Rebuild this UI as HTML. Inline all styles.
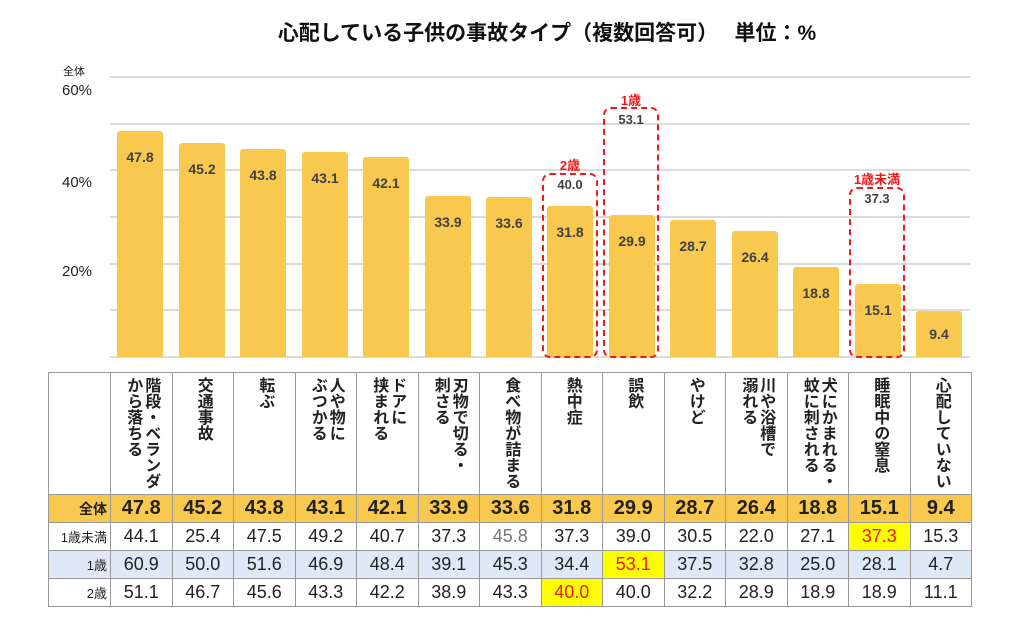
<!DOCTYPE html>
<html><head><meta charset="utf-8"><style>
body{margin:0;width:1024px;height:628px;background:#fff;position:relative;overflow:hidden;font-family:"Liberation Sans","Noto Sans CJK JP",sans-serif;color:#222}
.a{position:absolute}
.g{position:absolute;left:110px;width:860px;height:2px;background:#dcdcdc}
.bar{position:absolute;width:46px;background:#f9c94f;border-radius:3px 3px 0 0;text-align:center;font-weight:bold;font-size:14px;color:#404040}
.box{position:absolute;border:2.5px dashed #f01818;border-radius:8px;box-sizing:border-box}
.rl{position:absolute;color:#f01818;font-weight:bold;font-size:13px;text-align:center;width:60px}
.vl{position:absolute;color:#404040;font-weight:bold;font-size:13px;text-align:center;width:56px}
table{position:absolute;left:48px;top:372px;width:923px;border-collapse:collapse;table-layout:fixed}
td{border:1.5px solid #999;text-align:center;padding:0;font-size:18px;color:#222}
td.h{height:117px;vertical-align:top;font-weight:bold;font-size:16px}
.vt{writing-mode:vertical-rl;text-align:left;margin:4px auto 0;line-height:18px;height:112px;display:inline-block}
tr.t td{background:#f9c94f;font-weight:bold;font-size:20px;height:27px}
tr.r td{height:27px}
tr.b td{background:#dfe9f5}
td.c{font-size:13px;text-align:right;padding-right:3px}
td.y{background:#ffff00!important;color:#f01818}
</style></head><body>
<div class="a" style="left:0;top:17px;width:1024px;text-align:center;font-size:21px;font-weight:bold;padding-left:70px;box-sizing:border-box;color:#111">心配している子供の事故タイプ（複数回答可）　 単位：%</div>
<div class="a" style="left:63px;top:63px;font-size:11px">全体</div>
<div class="a" style="left:62px;top:82px;font-size:15px">60%</div>
<div class="a" style="left:62px;top:174px;font-size:15px">40%</div>
<div class="a" style="left:62px;top:263px;font-size:15px">20%</div>
<div class="g" style="top:76px"></div><div class="g" style="top:123px"></div><div class="g" style="top:169px"></div><div class="g" style="top:216px"></div><div class="g" style="top:263px"></div><div class="g" style="top:309px"></div><div class="g" style="top:356px"></div>
<div class="bar" style="left:117px;top:131px;height:226px;line-height:52px">47.8</div>
<div class="bar" style="left:179px;top:143px;height:214px;line-height:52px">45.2</div>
<div class="bar" style="left:240px;top:149px;height:208px;line-height:52px">43.8</div>
<div class="bar" style="left:302px;top:152px;height:205px;line-height:52px">43.1</div>
<div class="bar" style="left:363px;top:157px;height:200px;line-height:52px">42.1</div>
<div class="bar" style="left:425px;top:196px;height:161px;line-height:52px">33.9</div>
<div class="bar" style="left:486px;top:197px;height:160px;line-height:52px">33.6</div>
<div class="bar" style="left:547px;top:206px;height:151px;line-height:52px">31.8</div>
<div class="bar" style="left:609px;top:215px;height:142px;line-height:52px">29.9</div>
<div class="bar" style="left:670px;top:220px;height:137px;line-height:52px">28.7</div>
<div class="bar" style="left:732px;top:231px;height:126px;line-height:52px">26.4</div>
<div class="bar" style="left:793px;top:267px;height:90px;line-height:52px">18.8</div>
<div class="bar" style="left:855px;top:284px;height:73px;line-height:52px">15.1</div>
<div class="bar" style="left:916px;top:311px;height:46px;line-height:46px">9.4</div>
<div class="box" style="left:542px;top:173px;width:56px;height:185px"></div>
<div class="rl" style="left:540px;top:155px">2歳</div><div class="vl" style="left:542px;top:177px">40.0</div>
<div class="box" style="left:603px;top:107px;width:56px;height:251px"></div>
<div class="rl" style="left:601px;top:90px">1歳</div><div class="vl" style="left:603px;top:112px">53.1</div>
<div class="box" style="left:849px;top:187px;width:56px;height:171px"></div>
<div class="rl" style="left:846px;top:169px;width:62px">1歳未満</div><div class="vl" style="left:849px;top:191px">37.3</div>
<table>
<colgroup><col style="width:62px"><col span="14" style="width:61.5px"></colgroup>
<tr><td class="h"></td>
<td class="h"><span class="vt">階段・ベランダ<br>から落ちる</span></td>
<td class="h"><span class="vt">交通事故</span></td>
<td class="h"><span class="vt">転ぶ</span></td>
<td class="h"><span class="vt">人や物に<br>ぶつかる</span></td>
<td class="h"><span class="vt">ドアに<br>挟まれる</span></td>
<td class="h"><span class="vt">刃物で切る・<br>刺さる</span></td>
<td class="h"><span class="vt">食べ物が詰まる</span></td>
<td class="h"><span class="vt">熱中症</span></td>
<td class="h"><span class="vt">誤飲</span></td>
<td class="h"><span class="vt">やけど</span></td>
<td class="h"><span class="vt">川や浴槽で<br>溺れる</span></td>
<td class="h"><span class="vt">犬にかまれる・<br>蚊に刺される</span></td>
<td class="h"><span class="vt">睡眠中の窒息</span></td>
<td class="h"><span class="vt">心配していない</span></td></tr>
<tr class="t"><td class="c" style="font-size:14px">全体</td><td>47.8</td><td>45.2</td><td>43.8</td><td>43.1</td><td>42.1</td><td>33.9</td><td>33.6</td><td>31.8</td><td>29.9</td><td>28.7</td><td>26.4</td><td>18.8</td><td>15.1</td><td>9.4</td></tr>
<tr class="r"><td class="c">1歳未満</td><td>44.1</td><td>25.4</td><td>47.5</td><td>49.2</td><td>40.7</td><td>37.3</td><td style="color:#777">45.8</td><td>37.3</td><td>39.0</td><td>30.5</td><td>22.0</td><td>27.1</td><td class="y">37.3</td><td>15.3</td></tr>
<tr class="r b"><td class="c">1歳</td><td>60.9</td><td>50.0</td><td>51.6</td><td>46.9</td><td>48.4</td><td>39.1</td><td>45.3</td><td>34.4</td><td class="y">53.1</td><td>37.5</td><td>32.8</td><td>25.0</td><td>28.1</td><td>4.7</td></tr>
<tr class="r"><td class="c">2歳</td><td>51.1</td><td>46.7</td><td>45.6</td><td>43.3</td><td>42.2</td><td>38.9</td><td>43.3</td><td class="y">40.0</td><td>40.0</td><td>32.2</td><td>28.9</td><td>18.9</td><td>18.9</td><td>11.1</td></tr>
</table>
</body></html>
